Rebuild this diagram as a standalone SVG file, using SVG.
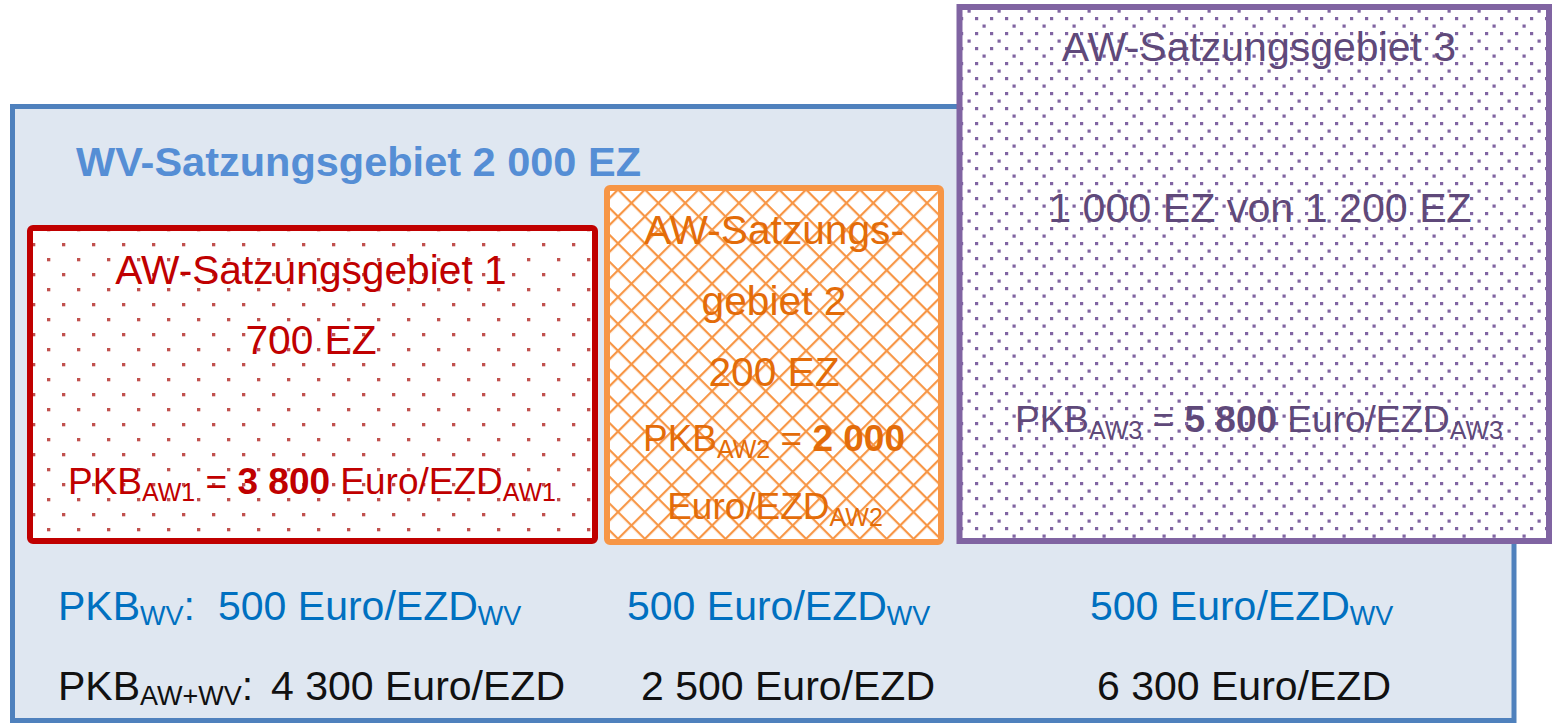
<svg xmlns="http://www.w3.org/2000/svg" width="1552" height="726" viewBox="0 0 1552 726">
<style>
text{font-family:"Liberation Sans",Arial,sans-serif}
.big{font-size:40.7px}
.mid{font-size:37px}
.bot{font-size:41px}
.red{fill:#C00000}
.ora{fill:#E36C09}
.pur{fill:#5F497A}
.blu{fill:#0070C0}
.blk{fill:#111111}
.b{font-weight:bold}
</style>
<defs>
<pattern id="pRed" width="30" height="30" patternUnits="userSpaceOnUse" x="2" y="3">
<rect width="30" height="30" fill="#ffffff"/>
<rect x="0" y="0" width="3.3" height="3.3" fill="#C0504D"/>
<rect x="15" y="15" width="3.3" height="3.3" fill="#C0504D"/>
</pattern>
<pattern id="pPur" width="30" height="30" patternUnits="userSpaceOnUse" x="0" y="2">
<rect width="30" height="30" fill="#ffffff"/>
<g fill="#8064A2">
<rect x="0" y="0" width="3.2" height="3.2"/>
<rect x="15" y="0" width="3.2" height="3.2"/>
<rect x="0" y="15" width="3.2" height="3.2"/>
<rect x="15" y="15" width="3.2" height="3.2"/>
<rect x="7.5" y="7.5" width="3.2" height="3.2"/>
<rect x="22.5" y="22.5" width="3.2" height="3.2"/>
</g>
</pattern>
<pattern id="pOra" width="19" height="19" patternUnits="userSpaceOnUse" patternTransform="rotate(45)">
<rect width="19" height="19" fill="#ffffff"/>
<rect x="0" y="0" width="19" height="2.2" fill="#F79646"/>
<rect x="0" y="0" width="2.2" height="19" fill="#F79646"/>
</pattern>
</defs>

<g id="wv-gebiet">
<rect x="12.5" y="106.5" width="1501.5" height="614" fill="#DFE7F1" stroke="#4F81BD" stroke-width="5"/>
<text x="76" y="176" class="b" style="font-size:41.5px;fill:#558ED5">WV-Satzungsgebiet 2 000 EZ</text>
</g>

<g id="aw1">
<rect x="30" y="228" width="565" height="313" rx="3" fill="url(#pRed)" stroke="#C00000" stroke-width="6"/>
<text x="311" y="284" text-anchor="middle" class="big red">AW-Satzungsgebiet 1</text>
<text x="311" y="354" text-anchor="middle" class="big red">700 EZ</text>
<text x="312" y="494" text-anchor="middle" class="mid red">PKB<tspan font-size="25" dy="7">AW1</tspan><tspan dy="-7"> = </tspan><tspan class="b">3 800</tspan> Euro/EZD<tspan font-size="25" dy="7">AW1</tspan></text>
</g>

<g id="aw2">
<rect x="607" y="188" width="334" height="354" rx="3" fill="url(#pOra)" stroke="#F79646" stroke-width="6"/>
<text x="774" y="244" text-anchor="middle" class="big ora">AW-Satzungs-</text>
<text x="774" y="315" text-anchor="middle" class="big ora">gebiet 2</text>
<text x="774" y="386" text-anchor="middle" class="big ora">200 EZ</text>
<text x="774" y="451" text-anchor="middle" class="mid ora">PKB<tspan font-size="25" dy="7">AW2</tspan><tspan dy="-7"> = </tspan><tspan class="b">2 000</tspan></text>
<text x="775" y="519" text-anchor="middle" class="mid ora">Euro/EZD<tspan font-size="25" dy="7">AW2</tspan></text>
</g>

<g id="aw3">
<rect x="959.5" y="7" width="589.5" height="534" fill="url(#pPur)" stroke="#8064A2" stroke-width="6"/>
<text x="1259" y="61" text-anchor="middle" class="pur" style="font-size:41px">AW-Satzungsgebiet 3</text>
<text x="1260" y="222" text-anchor="middle" class="pur" style="font-size:41.2px">1 000 EZ von 1 200 EZ</text>
<text x="1259" y="432" text-anchor="middle" class="mid pur">PKB<tspan font-size="25" dy="7">AW3</tspan><tspan dy="-7"> = </tspan><tspan class="b">5 800</tspan> Euro/EZD<tspan font-size="25" dy="7">AW3</tspan></text>
</g>

<g id="summary">
<text x="58" y="620" class="bot blu">PKB<tspan font-size="27" dy="5">WV</tspan><tspan dy="-5">:</tspan></text>
<text x="218" y="620" class="bot blu">500 Euro/EZD<tspan font-size="27" dy="5">WV</tspan></text>
<text x="627" y="620" class="bot blu">500 Euro/EZD<tspan font-size="27" dy="5">WV</tspan></text>
<text x="1090" y="620" class="bot blu">500 Euro/EZD<tspan font-size="27" dy="5">WV</tspan></text>
<text x="58" y="700" class="bot blk">PKB<tspan font-size="27" dy="5">AW+WV</tspan><tspan dy="-5">:</tspan></text>
<text x="271" y="700" class="bot blk">4 300 Euro/EZD</text>
<text x="641" y="700" class="bot blk">2 500 Euro/EZD</text>
<text x="1097" y="700" class="bot blk">6 300 Euro/EZD</text>
</g>

<g id="connectors"></g>
</svg>
